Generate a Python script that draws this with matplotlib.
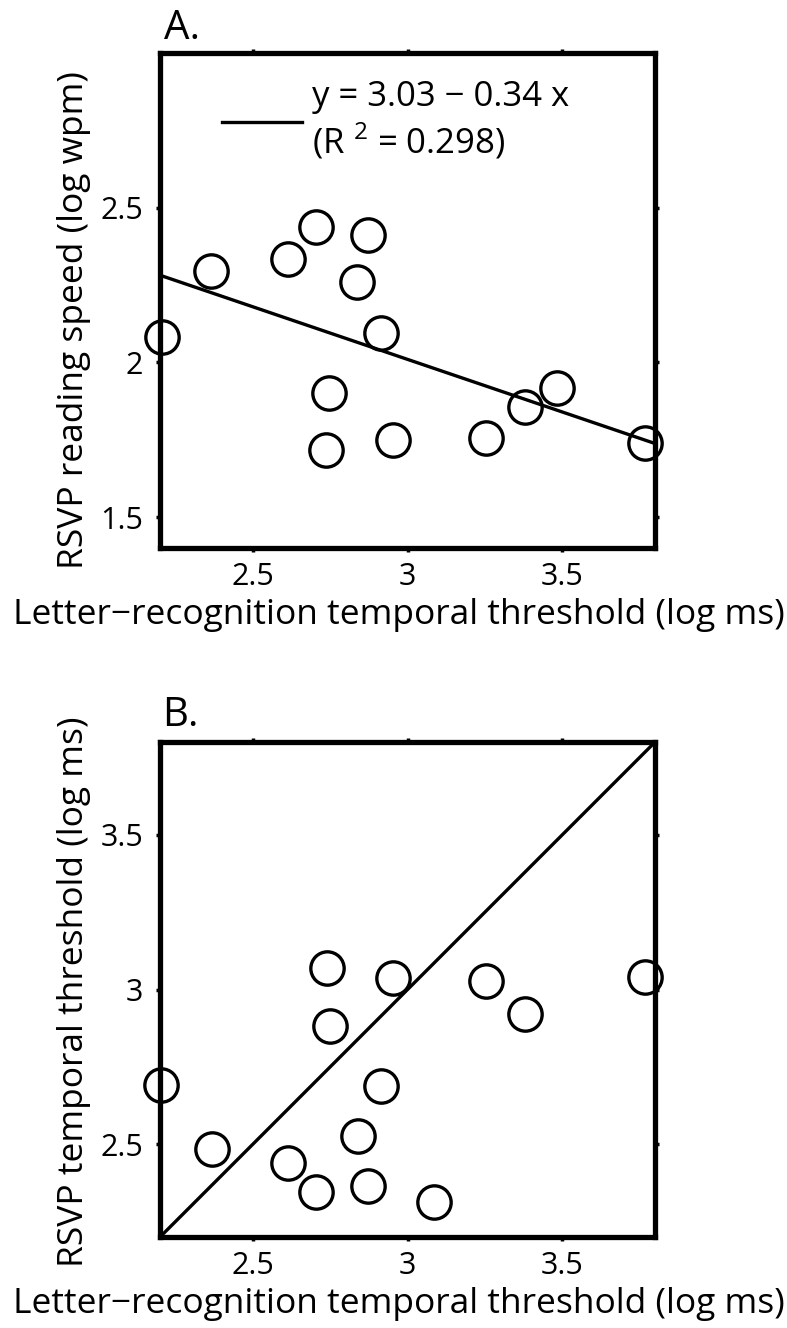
import numpy as np
import matplotlib.pyplot as plt

plt.rcParams['font.family'] = ['Open Sans', 'DejaVu Sans']
plt.rcParams['mathtext.fontset'] = 'custom'
plt.rcParams['mathtext.rm'] = 'Open Sans'

# Panel A: letter-recognition threshold vs RSVP reading speed
xa = [2.205, 2.365, 2.614, 2.704, 2.872, 2.838, 2.915, 2.745, 2.736,
      2.954, 3.255, 3.380, 3.483, 3.768]
ya = [2.083, 2.297, 2.333, 2.438, 2.413, 2.259, 2.096, 1.901, 1.718,
      1.750, 1.756, 1.856, 1.917, 1.741]
fit_a = [3.03, -0.34]

# Panel B: letter-recognition threshold vs RSVP temporal threshold
xb = [2.203, 2.367, 2.614, 2.705, 2.741, 2.749, 2.839, 2.872, 2.915,
      2.954, 3.255, 3.380, 3.768, 3.085]
yb = [2.691, 2.484, 2.438, 2.346, 3.071, 2.882, 2.525, 2.364, 2.688,
      3.036, 3.027, 2.922, 3.040, 2.314]

xlabel = "Letter\u2212recognition temporal threshold (log ms)"

fig = plt.figure(figsize=(7.87, 13.28), dpi=100)
ax1 = fig.add_axes([0.2033, 0.5873, 0.629, 0.3727])
ax2 = fig.add_axes([0.2033, 0.0685, 0.629, 0.3727])

def style(ax):
    for s in ax.spines.values():
        s.set_linewidth(3.8)
    ax.tick_params(direction='out', length=3, width=2.5, labelsize=22,
                   top=True, right=True)
    ax.tick_params(axis='x', pad=7)
    ax.tick_params(axis='y', pad=9)
    ax.set_xlim(2.2, 3.8)
    ax.set_xticks([2.5, 3, 3.5])
    ax.set_xticklabels(['2.5', '3', '3.5'])
    ax.set_xlabel(xlabel, fontsize=25.5)
    ax.xaxis.set_label_coords(0.483, -0.10)

# panel A
lx = np.array([2.2, 3.8])
ax1.plot(lx, fit_a[0] + fit_a[1] * lx, color='black', lw=2.4,
         label="y = 3.03 \u2212 0.34 x\n(R $^2$ = 0.298)")
ax1.plot(xa, ya, 'o', ms=24, mfc='none', mec='black', mew=2.4, clip_on=False)
style(ax1)
ax1.set_ylim(1.4, 3.0)
ax1.set_yticks([1.5, 2, 2.5])
ax1.set_yticklabels(['1.5', '2', '2.5'])
ax1.set_ylabel("RSVP reading speed (log wpm)", fontsize=25.5)
ax1.yaxis.set_label_coords(-0.139, 0.46)
ax1.legend(loc='upper left', bbox_to_anchor=(0.125, 0.945), frameon=False,
           fontsize=25, handlelength=2.3, handletextpad=0.3,
           borderpad=0, borderaxespad=0)
ax1.text(0.008, 1.028, "A.", transform=ax1.transAxes, fontsize=29,
         ha='left', va='baseline')

# panel B
ax2.plot([2.2, 3.8], [2.2, 3.8], color='black', lw=2.4)
ax2.plot(xb, yb, 'o', ms=24, mfc='none', mec='black', mew=2.4, clip_on=False)
style(ax2)
ax2.set_ylim(2.2, 3.8)
ax2.set_yticks([2.5, 3, 3.5])
ax2.set_yticklabels(['2.5', '3', '3.5'])
ax2.set_ylabel("RSVP temporal threshold (log ms)", fontsize=25.5)
ax2.yaxis.set_label_coords(-0.139, 0.495)
ax2.text(0.005, 1.032, "B.", transform=ax2.transAxes, fontsize=29,
         ha='left', va='baseline')

plt.savefig("out.png", dpi=100)
